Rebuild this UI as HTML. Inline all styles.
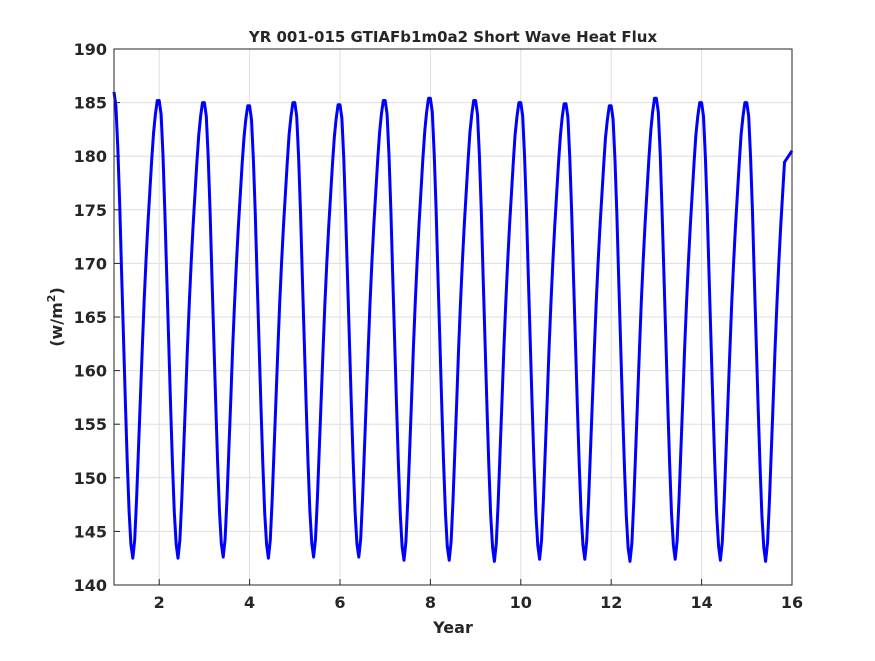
<!DOCTYPE html>
<html><head><meta charset="utf-8"><style>
body{margin:0;background:#fff;}
svg text{font-family:"DejaVu Sans","Liberation Sans",sans-serif;font-weight:bold;fill:#262626;}
</style></head><body>
<svg id="chart" width="875" height="656" xmlns="http://www.w3.org/2000/svg">
<rect width="875" height="656" fill="#fff"/>
<g id="grid"></g>
<g id="ticks"></g>
<path id="series" fill="none" stroke="#0000ff" stroke-width="3" stroke-linejoin="round"/>
<rect x="114" y="49" width="678" height="536" fill="none" stroke="#262626" stroke-width="1"/>
<text x="453" y="42" font-size="15" text-anchor="middle">YR 001-015 GTIAFb1m0a2 Short Wave Heat Flux</text>
<text x="453" y="633" font-size="16" text-anchor="middle">Year</text>
<text transform="translate(62,317) rotate(-90)" font-size="16" text-anchor="middle">(w/m<tspan font-size="11" dy="-7">2</tspan><tspan dy="7">)</tspan></text>
</svg>
<script>
const xTicks=[2,4,6,8,10,12,14,16];
const yTicks=[140,145,150,155,160,165,170,175,180,185,190];
const years=[1,2,3,4,5,6,7,8,9,10,11,12,13,14,15];
const peaks=[186,185.2,185,184.7,185,184.8,185.2,185.4,185.2,185,184.9,184.7,185.4,185,185,185];
const troughs=[142.5,142.5,142.6,142.5,142.6,142.6,142.3,142.3,142.2,142.4,142.4,142.2,142.4,142.3,142.2];
const cyclePhase=[0,0.042,0.083,0.125,0.167,0.208,0.25,0.292,0.333,0.375,0.417,0.458,0.5,0.542,0.583,0.625,0.667,0.708,0.75,0.792,0.833,0.875,0.917,0.958];
const cycleShape=[1,0.97,0.88,0.76,0.62,0.48,0.34,0.21,0.10,0.03,0,0.04,0.13,0.24,0.35,0.46,0.56,0.65,0.73,0.80,0.87,0.93,0.97,1];
const endYear=16, endValue=180.5;
const X0=114,X1=792,Y0=585,Y1=49;
const xs=v=>X0+(v-1)/(16-1)*(X1-X0);
const ys=v=>Y0-(v-140)/(190-140)*(Y0-Y1);
const ns="http://www.w3.org/2000/svg";
const grid=document.getElementById('grid'),ticks=document.getElementById('ticks');
function mk(tag,attrs,parent){const e=document.createElementNS(ns,tag);for(const k in attrs)e.setAttribute(k,attrs[k]);parent.appendChild(e);return e;}
xTicks.forEach(t=>{
 const x=xs(t);
 const g=mk('line',{x1:x,x2:x,y1:Y1,y2:Y0,stroke:'#dedede','stroke-width':1},grid);
 
 
 const tk=mk('line',{x1:x,x2:x,y1:Y0,y2:Y0-6,stroke:'#262626'},ticks);
 
 
 const tx=mk('text',{x:x,y:Y0+23,'font-size':16,'text-anchor':'middle'},ticks);
 
 
 tx.textContent=t;
});
yTicks.forEach(t=>{
 const y=ys(t);
 const g=mk('line',{x1:X0,x2:X1,y1:y,y2:y,stroke:'#dedede','stroke-width':1},grid);
 
 
 const tk=mk('line',{x1:X0,x2:X0+6,y1:y,y2:y,stroke:'#262626'},ticks);
 
 
 const tx=mk('text',{x:X0-7,y:y+6,'font-size':16,'text-anchor':'end'},ticks);
 
 
 tx.textContent=t;
});
let d='';
years.forEach((yr,i)=>{
 const p=peaks[i],pn=peaks[i+1],tr=troughs[i];
 cycleShape.forEach((s,j)=>{
  const t=yr+cyclePhase[j];
  if(t>endYear-0.15)return;
  const top=cyclePhase[j]<0.417?p:pn;
  const v=tr+s*(top-tr);
  d+=(d?'L':'M')+xs(t).toFixed(1)+','+ys(v).toFixed(1);
 });
});
d+='L'+xs(endYear).toFixed(1)+','+ys(endValue).toFixed(1);
document.getElementById('series').setAttribute('d',d);
</script>
</body></html>
